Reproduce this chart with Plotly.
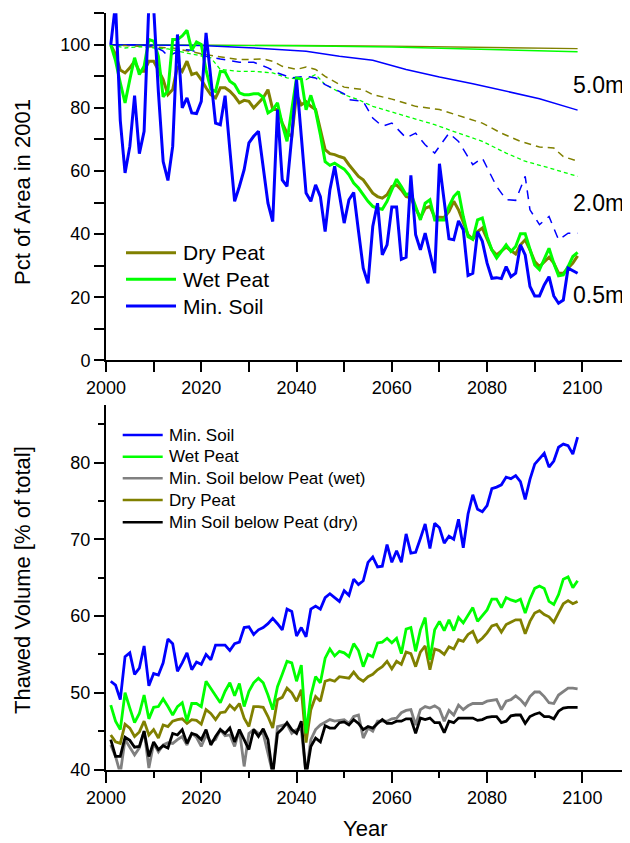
import plotly.graph_objects as go

# ---------------- DATA ----------------
years = list(range(2001, 2100))

# Top panel: % of area thawed (relative to 2001), 0.5 m depth (thick lines)
top_dry_05 = [100, 97, 92, 91.1, 92.7, 94.8, 91.6, 91.6, 94.8, 94.8, 92, 89, 84.2, 85.8, 93.2, 91.6, 94.8, 90.6, 91.1, 89,
              86.4, 84.2, 83.2, 86.4, 86.4, 85.3, 83.7, 81.6, 82.4, 82.1, 80, 81.6, 83.2, 85.8, 79.5, 79.5, 75.2, 72, 71, 84.2,
              81, 82, 80.5, 79.5, 73, 66.8, 65.5, 65.2, 64.6, 64.1, 62, 60.2, 58.3, 57.2, 55.1, 53, 51.9, 51.4, 52.5, 55.1,
              55.6, 54, 51.9, 51.4, 48.2, 45.1, 48.2, 48.8, 45.4, 45.3, 45.3, 47.2, 50.4, 47.7, 43.5, 39.8, 38.4, 40.8, 41.9, 38.2,
              35, 33.4, 34.8, 35.9, 34.8, 33.7, 36.6, 38.2, 35, 31.3, 29.7, 31.1, 32.7, 30.8, 27.6, 27.6, 29.2, 30.8, 33.1]
top_wet_05 = [100, 95, 88, 81.6, 89, 95.9, 90.6, 93.2, 101.7, 101.2, 96.4, 83.5, 85.5, 101.7, 101.7, 102.8, 104.6, 98.3, 100.9, 100.1,
              92, 86, 85.2, 91.6, 91.4, 88.5, 87.4, 84.8, 84.2, 84.2, 84.5, 84.5, 83.4, 78.4, 79.4, 81.6, 74.8, 69.4, 79.5, 89.5,
              89.2, 79.4, 84, 79, 71.5, 63, 61.8, 62.5, 61.5, 60.6, 58.8, 56.2, 54.6, 52.5, 50.4, 48.8, 48.2, 47.9, 50.4, 54,
              57.4, 55.1, 52.5, 53, 48.8, 44.5, 49.8, 50.9, 44.5, 44.5, 44.5, 48.8, 51.9, 53.5, 45.6, 39.2, 38.4, 44.5, 45.1, 39.2,
              35, 32.4, 34.5, 36.6, 34.5, 36.1, 40.1, 40.1, 35.2, 30.2, 28.7, 32.4, 35.5, 30.8, 26.8, 27.1, 29.7, 32.9, 34.2]
top_min_05 = [100, 113, 76, 59.4, 67.8, 83.9, 65.5, 72.6, 113, 112, 85, 63, 57, 67.8, 103.3, 80, 83.2, 78.4, 78.2, 82.1,
              103.8, 89.5, 75.2, 74.7, 83.9, 66.8, 50.4, 55.1, 60.4, 68.9, 71, 72.6, 61.5, 49.8, 44, 79.5, 57.2, 55.1, 71, 89,
              71, 53, 50.4, 55.6, 51.9, 40.8, 54, 61.5, 52.5, 43.5, 50.9, 53.2, 41, 29.2, 24.4, 42.4, 49.8, 33.4, 36.6, 48.6,
              48.6, 32, 32.7, 58.6, 39.8, 35, 40.3, 34, 27.6, 62.3, 49.8, 38.5, 38.2, 44.2, 41.4, 26.9, 27.6, 40.8, 37.7, 30.8,
              26, 26.2, 25.9, 29.7, 26.5, 27.6, 36.6, 33.4, 23.4, 20.4, 20.4, 23.9, 26.5, 20.4, 18.1, 19.1, 29.2, 28.5, 27.6]

# 2.0 m depth (dashed lines)
dry_20_years = [2001, 2007, 2014, 2021, 2028, 2033, 2035, 2037, 2040, 2042, 2044, 2046, 2050, 2054, 2056, 2060, 2065, 2070,
                2074, 2079, 2083, 2087, 2091, 2094, 2096, 2099]
dry_20 = [100, 99.6, 99, 96.9, 95.3, 95.5, 94.8, 93.2, 92.2, 93, 92.2, 90, 86.6, 85.8, 84.2, 82.8, 80.5, 79.5,
          77.6, 75.2, 72, 69.4, 67.6, 67.3, 64.6, 63.1]
wet_20_years = [2001, 2004, 2007, 2013, 2017, 2022, 2024, 2028, 2031, 2035, 2038, 2042, 2044, 2046, 2050, 2053, 2056, 2063,
                2069, 2074, 2079, 2084, 2088, 2093, 2099]
wet_20 = [100, 99, 99.4, 98.7, 97.4, 95.9, 92.2, 91.6, 91.6, 91.1, 89.5, 89, 90.6, 87.4, 84.2, 82.6, 80.5, 77.3,
          74.7, 72, 69.4, 65.7, 63.1, 61, 58.3]
min_20_years = [2001, 2007, 2010, 2012, 2013, 2016, 2018, 2021, 2024, 2028, 2031, 2034, 2036, 2039, 2042, 2044, 2046, 2049,
                2050, 2051, 2054, 2056, 2058, 2060, 2063, 2065, 2067, 2069, 2072, 2074, 2077, 2079, 2082, 2084, 2086, 2088,
                2089, 2091, 2093, 2095, 2097, 2099]
min_20 = [100, 100, 99.6, 98, 96.4, 98.5, 98.3, 96.4, 95.5, 94.5, 94.5, 92.7, 91.1, 89.5, 90, 89.5, 87.4, 85.3,
          84.5, 82.6, 82.1, 76.8, 74.2, 75.2, 70.5, 72, 68.3, 65.7, 72, 69.4, 62, 64.1, 55.1, 50.9, 50.7, 58.3,
          47.7, 43, 45.6, 38.2, 40.3, 40.3]

# 5.0 m depth (thin solid lines)
dry_50_years = [2001, 2020, 2040, 2060, 2080, 2099]
dry_50 = [100, 100, 99.8, 99.6, 99.2, 98.8]
wet_50_years = [2001, 2020, 2040, 2060, 2080, 2099]
wet_50 = [100, 99.9, 99.7, 99.3, 98.6, 97.8]
min_50_years = [2001, 2010, 2020, 2030, 2035, 2042, 2049, 2056, 2063, 2070, 2077, 2084, 2091, 2099]
min_50 = [100, 100, 99.8, 99.1, 98.7, 98, 96.4, 95.1, 92.2, 89.8, 87.7, 85.3, 82.9, 79.3]

# Bottom panel: thawed volume [% of total]
vol_min = [51.5, 51.0, 49.1, 54.7, 55.2, 52.4, 53.2, 56.1, 50.9, 52.5, 52.3, 53.9, 57.0, 56.4, 52.8, 53.9, 55.2, 53.0, 54.0, 53.7,
           55.0, 54.3, 56.2, 56.2, 56.2, 55.5, 56.4, 56.6, 58.5, 58.6, 57.6, 58.2, 58.5, 59.0, 59.7, 59.0, 58.2, 60.9, 60.6, 57.4,
           58.5, 57.3, 60.9, 61.3, 60.9, 62.4, 62.9, 62.4, 61.9, 63.3, 62.7, 64.8, 64.1, 64.6, 67.0, 67.7, 66.4, 66.5, 69.3, 67.0,
           68.5, 67.0, 70.7, 68.2, 68.3, 70.1, 72.0, 68.8, 72.1, 71.5, 69.5, 70.4, 70.0, 72.6, 68.9, 73.3, 75.8, 73.9, 73.6, 74.4,
           76.6, 76.8, 77.1, 78.1, 77.9, 78.3, 77.5, 75.2, 77.8, 79.8, 80.5, 81.2, 79.4, 80.2, 82.0, 82.4, 82.2, 81.1, 83.3]
vol_wet = [48.4, 46.3, 45.2, 50.0, 48.0, 46.1, 47.3, 49.7, 46.6, 48.1, 48.2, 49.2, 48.2, 47.1, 48.2, 48.7, 46.3, 48.6, 48.6, 48.2,
           51.5, 50.6, 49.7, 48.7, 50.2, 51.3, 49.6, 51.2, 48.2, 50.2, 51.3, 51.9, 51.3, 49.7, 47.8, 50.8, 52.4, 54.1, 53.9, 51.5,
           53.6, 44.7, 49.6, 52.1, 51.3, 54.5, 55.7, 54.8, 55.4, 55.2, 54.7, 56.4, 55.5, 53.4, 55.0, 54.7, 56.5, 56.6, 57.1, 56.5,
           57.1, 55.1, 58.3, 58.5, 55.4, 58.2, 59.8, 54.3, 58.2, 59.3, 58.1, 59.5, 58.1, 59.8, 59.1, 60.1, 61.1, 59.3, 60.0, 60.8,
           62.2, 62.2, 61.1, 62.4, 62.1, 61.9, 62.2, 60.4, 62.2, 63.6, 63.9, 63.6, 61.9, 61.5, 62.8, 64.8, 65.1, 63.7, 64.6]
vol_min_below_wet = [43.2, 41.7, 39.5, 43.9, 42.9, 41.9, 42.8, 45.0, 40.2, 43.4, 42.3, 43.2, 43.5, 43.4, 43.9, 44.3, 43.2, 44.7, 44.2, 43.0,
                     44.5, 43.6, 43.9, 45.2, 44.4, 44.5, 43.0, 45.2, 40.4, 44.7, 45.2, 44.7, 44.7, 42.1, 39.5, 45.6, 45.8, 45.9, 44.7, 45.2,
                     45.2, 39.3, 43.9, 45.2, 45.8, 46.1, 46.5, 46.3, 46.4, 46.5, 46.0, 46.9, 47.1, 44.1, 45.4, 45.0, 46.3, 46.3, 46.3, 46.6,
                     46.7, 47.4, 47.7, 47.8, 45.8, 47.8, 48.2, 48.0, 48.3, 47.9, 46.3, 47.7, 47.1, 48.4, 47.8, 48.3, 48.6, 48.6, 48.6, 48.9,
                     49.0, 49.1, 47.8, 48.9, 49.1, 49.6, 49.1, 48.4, 49.5, 50.1, 50.1, 49.5, 48.7, 48.6, 49.7, 50.2, 50.6, 50.6, 50.5]
vol_dry = [44.5, 43.6, 43.4, 45.9, 45.4, 44.3, 44.9, 46.3, 44.5, 45.2, 44.1, 45.8, 45.6, 46.3, 46.5, 46.6, 46.0, 46.5, 46.4, 45.9,
           47.8, 47.3, 46.5, 47.4, 47.5, 48.4, 47.8, 48.6, 46.7, 45.6, 48.2, 48.2, 48.1, 46.9, 45.4, 49.1, 49.4, 50.6, 50.0, 48.9,
           50.4, 43.5, 47.8, 49.5, 48.9, 51.5, 51.7, 51.5, 52.1, 52.0, 51.9, 52.7, 51.9, 51.5, 52.1, 52.4, 53.0, 53.4, 54.1, 53.1,
           54.1, 53.7, 55.3, 55.1, 53.4, 55.3, 56.1, 53.0, 55.7, 55.5, 55.0, 56.0, 55.7, 56.9, 56.7, 57.6, 58.0, 56.6, 57.1, 57.8,
           58.7, 58.9, 57.9, 58.9, 59.2, 59.5, 59.5, 57.7, 59.3, 60.4, 60.7, 60.2, 59.9, 59.2, 60.4, 61.6, 62.0, 61.6, 61.9]
vol_min_below_dry = [43.9, 41.7, 41.7, 44.2, 43.8, 42.9, 43.0, 45.0, 41.7, 43.6, 42.6, 43.1, 42.8, 44.7, 44.5, 45.2, 43.4, 44.7, 44.5, 43.9,
                     45.2, 43.2, 44.3, 45.2, 44.7, 45.4, 43.6, 45.2, 43.9, 42.6, 45.2, 44.3, 45.3, 43.9, 39.3, 44.7, 45.3, 46.1, 45.2, 44.7,
                     46.3, 39.2, 43.0, 44.1, 43.6, 45.7, 45.4, 45.4, 46.1, 46.2, 45.8, 46.5, 46.0, 45.2, 45.6, 45.4, 46.0, 46.5, 46.0, 46.0,
                     46.3, 46.3, 46.6, 46.6, 44.7, 46.7, 46.5, 46.7, 46.1, 46.1, 44.8, 46.3, 46.1, 46.7, 46.7, 46.7, 46.7, 46.4, 46.5, 46.8,
                     46.9, 46.9, 46.1, 46.3, 47.0, 47.1, 47.1, 46.0, 46.9, 47.2, 47.4, 46.9, 46.9, 46.6, 47.6, 48.0, 48.1, 48.1, 48.1]

top_legend = ["Dry Peat", "Wet Peat", "Min. Soil"]
bottom_legend = ["Min. Soil", "Wet Peat", "Min. Soil below Peat (wet)", "Dry Peat", "Min Soil below Peat (dry)"]
depth_labels = ["5.0m", "2.0m", "0.5m"]

# ---------------- STYLE ----------------
OLIVE = "#808000"
GREEN = "#00ff00"
BLUE = "#0000ff"
GRAY = "#808080"
BLACK = "#000000"
FONT = "Liberation Sans, Arial, sans-serif"
# the page places the figure 8 px in from the window's top-left corner
OFF = 8
W, H = 630 - OFF, 843 - OFF


def px(x):
    """window x pixel -> paper fraction"""
    return (x - OFF) / W


def py(y):
    """window y pixel -> paper fraction"""
    return 1 - (y - OFF) / H


fig = go.Figure()


def add(x, y, color, width, dash="solid", axes=("x", "y")):
    fig.add_trace(go.Scatter(x=x, y=y, mode="lines", xaxis=axes[0], yaxis=axes[1],
                             line=dict(color=color, width=width, dash=dash),
                             showlegend=False, hoverinfo="skip"))


# top panel thin / dashed
add(dry_50_years, dry_50, OLIVE, 1.4)
add(wet_50_years, wet_50, GREEN, 1.4)
add(min_50_years, min_50, BLUE, 1.5)
add(dry_20_years, dry_20, OLIVE, 1.5, "7px,5px")
add(wet_20_years, wet_20, GREEN, 1.3, "4px,3px")
add(min_20_years, min_20, BLUE, 1.5, "9px,7px")
# top panel thick
add(years, top_dry_05, OLIVE, 3)
add(years, top_wet_05, GREEN, 3)
add(years, top_min_05, BLUE, 3)

# bottom panel
ax2 = ("x2", "y2")
add(years, vol_min_below_wet, GRAY, 2.8, axes=ax2)
add(years, vol_min_below_dry, BLACK, 2.8, axes=ax2)
add(years, vol_dry, OLIVE, 2.8, axes=ax2)
add(years, vol_wet, GREEN, 2.8, axes=ax2)
add(years, vol_min, BLUE, 2.8, axes=ax2)

axis_common = dict(showline=True, linewidth=2, linecolor="black", ticks="outside", tickwidth=2,
                   tickcolor="black", showgrid=False, zeroline=False, automargin=False,
                   tickfont=dict(size=18, color="black", family=FONT))

fig.update_layout(
    width=W, height=H, margin=dict(l=0, r=0, t=0, b=0, autoexpand=False),
    paper_bgcolor="white", plot_bgcolor="white",
    font=dict(family=FONT, color="black"),
    showlegend=False,
    xaxis=dict(domain=[px(106), 1.0], range=[2000, 2110], anchor="y", dtick=20, tick0=2000, ticklen=10,
               minor=dict(dtick=10, ticklen=10, tickwidth=2, tickcolor="black", ticks="outside"), **axis_common),
    yaxis=dict(domain=[py(360.3), py(13.3)], range=[0, 110], anchor="x", dtick=20, tick0=0, ticklen=10,
               minor=dict(dtick=10, ticklen=10, tickwidth=2, tickcolor="black", ticks="outside"), **axis_common),
    xaxis2=dict(domain=[px(106), 1.0], range=[2000, 2110], anchor="y2", dtick=20, tick0=2000, ticklen=11,
                minor=dict(dtick=10, ticklen=6, tickwidth=2, tickcolor="black", ticks="outside"), **axis_common),
    yaxis2=dict(domain=[py(769.5), py(405)], range=[40, 87.5], anchor="x2", dtick=10, tick0=40, ticklen=10,
                minor=dict(dtick=5, ticklen=6, tickwidth=2, tickcolor="black", ticks="outside"), **axis_common),
)

annotations = []
shapes = []

# axis titles
annotations.append(dict(text="Pct of Area in 2001", x=px(22), y=py(192), xref="paper", yref="paper",
                        textangle=-90, showarrow=False, font=dict(size=22), xanchor="center", yanchor="middle"))
annotations.append(dict(text="Thawed Volume [% of total]", x=px(22), y=py(580), xref="paper", yref="paper",
                        textangle=-90, showarrow=False, font=dict(size=22), xanchor="center", yanchor="middle"))
annotations.append(dict(text="Year", x=px(365), y=py(828), xref="paper", yref="paper",
                        showarrow=False, font=dict(size=22), xanchor="center", yanchor="middle"))

# depth labels
for lab, yy in zip(depth_labels, [85, 203, 295]):
    annotations.append(dict(text=lab, x=px(598), y=py(yy), xref="paper", yref="paper",
                            showarrow=False, font=dict(size=23), xanchor="center", yanchor="middle"))

# top legend
for lab, col, yy in zip(top_legend, [OLIVE, GREEN, BLUE], [252.7, 279.3, 306]):
    shapes.append(dict(type="line", xref="paper", yref="paper", x0=px(126), x1=px(176), y0=py(yy), y1=py(yy),
                       line=dict(color=col, width=3)))
    annotations.append(dict(text=lab, x=px(181), y=py(yy), xref="paper", yref="paper", showarrow=False,
                            font=dict(size=21), xanchor="left", yanchor="middle"))

# bottom legend
for lab, col, yy in zip(bottom_legend, [BLUE, GREEN, GRAY, OLIVE, BLACK], [435, 456.7, 478.3, 500, 522.3]):
    shapes.append(dict(type="line", xref="paper", yref="paper", x0=px(122.7), x1=px(162.7), y0=py(yy), y1=py(yy),
                       line=dict(color=col, width=2.5)))
    annotations.append(dict(text=lab, x=px(167), y=py(yy), xref="paper", yref="paper", showarrow=False,
                            font=dict(size=17), xanchor="left", yanchor="middle"))

fig.update_layout(annotations=annotations, shapes=shapes)

fig.write_html("out.html")
